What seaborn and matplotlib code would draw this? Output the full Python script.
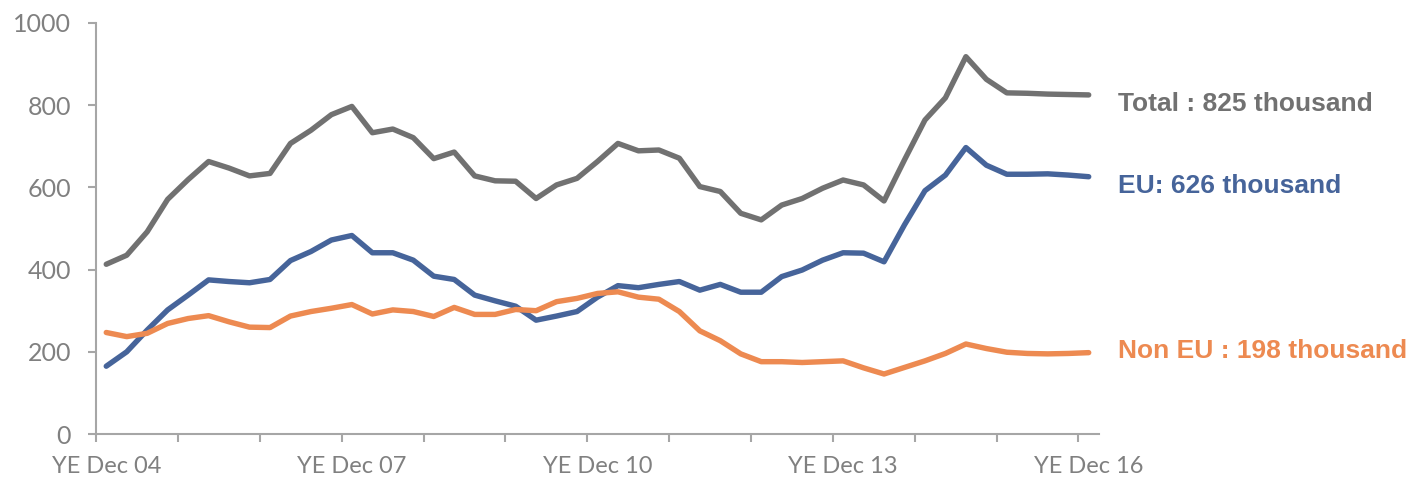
import matplotlib
matplotlib.use("Agg")
import matplotlib.pyplot as plt
import seaborn as sns
import pandas as pd

# quarterly points, YE Dec 04 .. YE Dec 16
quarters = [f"Q{i}" for i in range(49)]
tick_labels = ["YE Dec 04", "YE Dec 07", "YE Dec 10", "YE Dec 13", "YE Dec 16"]

total = [413, 435, 492, 571, 619, 663, 647, 628, 634, 707, 739, 777, 797, 733, 742,
         721, 670, 686, 628, 616, 615, 573, 606, 622, 663, 707, 689, 691, 671, 602,
         590, 537, 521, 557, 573, 598, 618, 606, 567, 667, 764, 818, 918, 863, 830,
         829, 827, 826, 825]
eu = [165, 200, 253, 302, 338, 375, 371, 368, 376, 422, 444, 472, 483, 441, 441,
      423, 384, 376, 338, 324, 311, 277, 287, 298, 333, 361, 356, 364, 371, 350,
      364, 345, 345, 383, 399, 423, 441, 440, 419, 509, 592, 630, 697, 654, 632,
      632, 633, 630, 626]
non_eu = [247, 237, 245, 269, 281, 288, 273, 260, 259, 287, 298, 306, 315, 292, 302,
          298, 286, 308, 291, 291, 303, 300, 322, 330, 342, 346, 333, 328, 298, 251,
          227, 195, 176, 176, 174, 176, 178, 161, 146, 162, 178, 196, 219, 208, 199,
          196, 195, 196, 198]

GREY = "#717171"
BLUE = "#46649a"
ORANGE = "#ed8a51"
AXIS = "#a6a6a6"

sns.set_style("white")
plt.rcParams["font.family"] = ["Lato", "DejaVu Sans"]

df = pd.DataFrame({
    "q": list(range(len(quarters))) * 3,
    "value": total + eu + non_eu,
    "series": ["Total"] * 49 + ["EU"] * 49 + ["Non EU"] * 49,
})

fig = plt.figure(figsize=(14.08, 4.78), dpi=100)
ax = fig.add_axes([0.0682, 0.092, 0.7123, 0.8599])

sns.lineplot(data=df, x="q", y="value", hue="series",
             palette={"Total": GREY, "EU": BLUE, "Non EU": ORANGE},
             hue_order=["Total", "EU", "Non EU"],
             linewidth=3.9, legend=False, ax=ax)
for ln in ax.lines:
    ln.set_solid_capstyle("round")
    ln.set_solid_joinstyle("round")

ax.set_xlim(-0.5, 48.5)
ax.set_ylim(0, 1000)
ax.set_yticks([0, 200, 400, 600, 800, 1000])
ax.set_xticks([0, 12, 24, 36, 48], tick_labels)
ax.set_xticks([x - 0.5 for x in range(0, 49, 4)], minor=True)
ax.set_xlabel("")
ax.set_ylabel("")

for s in ["top", "right"]:
    ax.spines[s].set_visible(False)
for s in ["left", "bottom"]:
    ax.spines[s].set_color(AXIS)
    ax.spines[s].set_linewidth(1.5)

ax.tick_params(axis="y", which="major", length=6, width=1.5, color=AXIS,
               labelcolor="#808080", labelsize=18, pad=12, left=True)
ax.tick_params(axis="x", which="major", length=0, labelcolor="#808080",
               labelsize=17, pad=16, bottom=True)
ax.tick_params(axis="x", which="minor", length=6, width=1.5, color=AXIS,
               bottom=True, direction="out")

lab_font = ["Liberation Sans", "DejaVu Sans"]
ax.text(49.45, total[-1] - 21, f"Total : {total[-1]} thousand", color=GREY,
        fontsize=19, fontweight="bold", va="center", ha="left",
        family=lab_font, clip_on=False)
ax.text(49.45, eu[-1] - 23, f"EU: {eu[-1]} thousand", color=BLUE,
        fontsize=19, fontweight="bold", va="center", ha="left",
        family=lab_font, clip_on=False)
ax.text(49.45, non_eu[-1] + 4, f"Non EU : {non_eu[-1]} thousand", color=ORANGE,
        fontsize=19, fontweight="bold", va="center", ha="left",
        family=lab_font, clip_on=False)

fig.savefig("out.png", dpi=100)
